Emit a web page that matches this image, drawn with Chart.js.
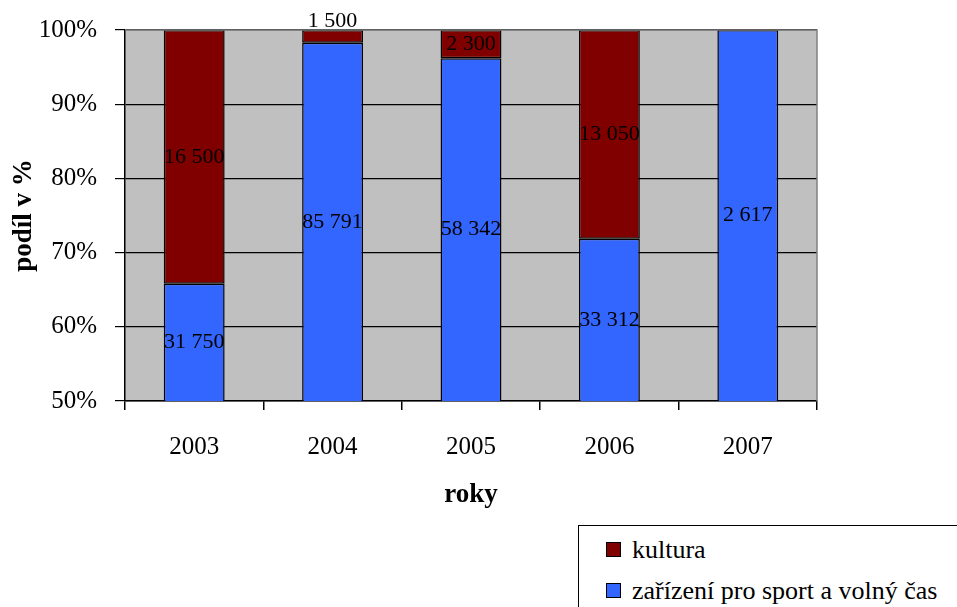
<!DOCTYPE html>
<html>
<head>
<meta charset="utf-8">
<script src="https://cdn.jsdelivr.net/npm/chart.js@4"></script>
<style>
html, body { margin: 0; padding: 0; background: #fff; overflow: hidden; }
#wrap { position: relative; width: 957px; height: 607px; }
#legend {
  position: absolute; left: 578px; top: 525px; width: 420px; height: 120px;
  border: 1.5px solid #000; background: #fff;
  font-family: "Liberation Serif", "Times New Roman", serif; font-size: 26px; color: #000;
}
#legend .row { position: absolute; left: 27px; height: 30px; line-height: 30px; white-space: nowrap; }
#legend .sw { display: inline-block; width: 13px; height: 13px; border: 1px solid #000; margin-right: 11px; vertical-align: 1px; }
</style>
</head>
<body>
<div id="wrap">
<canvas id="chart" width="957" height="607"></canvas>
<div id="legend">
  <div class="row" style="top:9px"><span class="sw" style="background:#800000"></span>kultura</div>
  <div class="row" style="top:50px"><span class="sw" style="background:#3366FF"></span>zařízení pro sport a volný čas</div>
</div>
</div>
<script>
const years = ["2003", "2004", "2005", "2006", "2007"];
const sport = [31750, 85791, 58342, 33312, 2617];
const kultura = [16500, 1500, 2300, 13050, 0];
const yTicks = [50, 60, 70, 80, 90, 100];

const totals = years.map((y, i) => sport[i] + kultura[i]);
const sportPct = sport.map((v, i) => v / totals[i] * 100);
const kulturaPct = kultura.map((v, i) => v / totals[i] * 100);

const serif = "'Liberation Serif', 'Times New Roman', serif";

function fmt(n) {
  return String(n).replace(/\B(?=(\d{3})+(?!\d))/g, " ");
}

// gray plot background + gray top/right frame
const plotBg = {
  id: "plotBg",
  beforeDraw(chart) {
    const a = chart.chartArea, ctx = chart.ctx;
    ctx.save();
    ctx.fillStyle = "#C0C0C0";
    ctx.fillRect(a.left, a.top, a.right - a.left, a.bottom - a.top);
    ctx.restore();
  },
  afterDraw(chart) {
    const a = chart.chartArea, ctx = chart.ctx;
    ctx.save();
    ctx.strokeStyle = "#808080";
    ctx.lineWidth = 1.5;
    ctx.beginPath();
    ctx.moveTo(a.left, a.top);
    ctx.lineTo(a.right, a.top);
    ctx.lineTo(a.right, a.bottom);
    ctx.stroke();
    ctx.restore();
  }
};

// value labels in the middle of the visible part of each segment
const valueLabels = {
  id: "valueLabels",
  afterDatasetsDraw(chart) {
    const ctx = chart.ctx, ys = chart.scales.y;
    const raws = [sport, kultura];
    ctx.save();
    ctx.font = "22px " + serif;
    ctx.fillStyle = "#000";
    ctx.textAlign = "center";
    ctx.textBaseline = "middle";
    chart.data.datasets.forEach((ds, d) => {
      const meta = chart.getDatasetMeta(d);
      meta.data.forEach((bar, i) => {
        const raw = raws[d][i];
        if (!raw) return;
        let start = 0;
        for (let k = 0; k < d; k++) start += chart.data.datasets[k].data[i];
        const end = start + ds.data[i];
        const lo = Math.max(start, ys.min), hi = Math.min(end, ys.max);
        if (hi <= lo) return;
        const y1 = ys.getPixelForValue(lo), y2 = ys.getPixelForValue(hi);
        let y = (y1 + y2) / 2;
        if (y1 - y2 < 20) y = y2 - 9;
        ctx.fillText(fmt(raw), bar.x, y);
      });
    });
    ctx.restore();
  }
};

new Chart(document.getElementById("chart"), {
  type: "bar",
  data: {
    labels: years,
    datasets: [{
      label: "zařízení pro sport a volný čas",
      data: sportPct,
      backgroundColor: "#3366FF",
      borderColor: "#000",
      borderWidth: 1.5,
      borderSkipped: false
    }, {
      label: "kultura",
      data: kulturaPct,
      backgroundColor: "#800000",
      borderColor: "#000",
      borderWidth: 1.5,
      borderSkipped: false
    }]
  },
  options: {
    responsive: false,
    animation: false,
    events: [],
    categoryPercentage: 1,
    barPercentage: 0.44,
    layout: { padding: { top: 30, right: 140, left: 0, bottom: 0 } },
    plugins: { legend: { display: false }, tooltip: { enabled: false } },
    scales: {
      x: {
        stacked: true,
        grid: { drawOnChartArea: false, drawTicks: true, tickLength: 9, color: "#000", lineWidth: 1.5 },
        border: { color: "#000", width: 1.5 },
        ticks: { color: "#000", padding: 22, font: { family: serif, size: 25 } },
        title: { display: true, text: "roky", color: "#000", padding: { top: 0, bottom: 96 }, font: { family: serif, size: 27, weight: "bold" } },
        afterFit(s) { s.height = 206; s.paddingLeft = 0; s.paddingRight = 0; }
      },
      y: {
        stacked: true,
        min: 50,
        max: 100,
        afterBuildTicks(s) { s.ticks = yTicks.map(v => ({ value: v })); },
        grid: { color: "#000", lineWidth: 1.2, tickLength: 10 },
        border: { color: "#000", width: 1.5 },
        ticks: { color: "#000", padding: 18, font: { family: serif, size: 25 }, callback: v => v + "%" },
        title: { display: true, text: "podíl v %", color: "#000", padding: { top: 8, bottom: 0 }, font: { family: serif, size: 27, weight: "bold" } },
        afterFit(s) { s.width = 125; s.paddingTop = 0; s.paddingBottom = 0; }
      }
    }
  },
  plugins: [plotBg, valueLabels]
});
</script>
</body>
</html>
